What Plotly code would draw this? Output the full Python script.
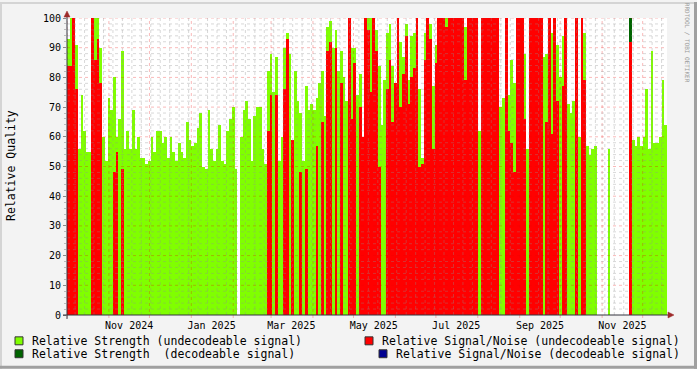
import pandas as pd
import plotly.graph_objects as go

# ---------------- data ----------------
start_date = "2024-10-01"
end_date = "2025-12-19"
bin_days = 2

# Relative Strength (undecodeable signal), one value per 2-day bin
strength_undec = [
    93, 100, 100, 91, 56, 74, 62, 55, 55, 100,
    100, 100, 90, 60, 52, 73, 69, 80, 60, 66,
    89, 56, 62, 56, 69, 56, 60, 53, 53, 51,
    52, 60, 55, 62, 62, 58, 60, 53, 60, 55,
    52, 58, 55, 53, 65, 59, 57, 58, 63, 68,
    50, 49, 69, 56, 52, 56, 64, 52, 51, 62,
    66, 70, 49, 0, 60, 69, 72, 66, 52, 67,
    70, 70, 56, 51, 82, 88, 75, 87, 52, 60,
    90, 95, 88, 52, 82, 72, 68, 52, 77, 69,
    71, 69, 73, 78, 82, 67, 97, 99, 90, 96,
    82, 89, 80, 72, 80, 90, 90, 74, 81, 60,
    100, 100, 100, 89, 96, 84, 64, 79, 95, 98,
    84, 74, 100, 92, 87, 98, 79, 94, 95, 100,
    76, 53, 95, 100, 98, 77, 91, 99, 100, 100,
    100, 100, 100, 100, 100, 100, 100, 97, 90, 100,
    100, 100, 62, 100, 93, 100, 100, 100, 100, 100,
    70, 73, 100, 74, 86, 78, 100, 100, 98, 88,
    56, 100, 100, 100, 100, 100, 87, 88, 100, 95,
    100, 91, 80, 94, 100, 71, 68, 72, 100, 60,
    98, 95, 57, 54, 56, 57, 0, 0, 0, 0,
    56, 0, 0, 0, 0, 0, 0, 0, 100, 59,
    57, 60, 57, 60, 76, 56, 89, 58, 58, 60,
    79, 64,
]

# Relative Signal/Noise (undecodeable signal), same bins
sn_undec = [
    84, 84, 100, 76, 0, 0, 0, 0, 0, 100,
    86, 93, 78, 0, 0, 0, 0, 48, 55, 0,
    49, 0, 0, 0, 0, 0, 0, 0, 0, 0,
    0, 0, 0, 0, 0, 0, 0, 0, 0, 0,
    0, 0, 0, 0, 0, 0, 0, 0, 0, 0,
    0, 0, 0, 0, 0, 0, 0, 0, 0, 0,
    0, 0, 0, 0, 0, 0, 0, 0, 0, 0,
    0, 0, 0, 0, 62, 74, 0, 74, 0, 0,
    76, 93, 0, 59, 0, 0, 48, 0, 49, 0,
    0, 0, 57, 0, 65, 0, 89, 92, 0, 90,
    0, 78, 0, 0, 100, 66, 85, 0, 70, 60,
    100, 96, 75, 100, 89, 50, 0, 0, 76, 86,
    65, 78, 100, 70, 81, 94, 71, 80, 83, 100,
    50, 51, 86, 100, 93, 56, 85, 100, 100, 100,
    97, 100, 100, 100, 100, 100, 100, 79, 100, 100,
    100, 100, 0, 100, 100, 100, 100, 100, 100, 100,
    0, 0, 100, 62, 58, 48, 100, 100, 100, 66,
    0, 100, 100, 100, 100, 100, 0, 65, 100, 61,
    100, 72, 0, 77, 100, 0, 0, 0, 100, 0,
    100, 79, 0, 0, 0, 0, 0, 0, 0, 0,
    0, 0, 0, 0, 0, 0, 0, 0, 92, 0,
    0, 0, 0, 0, 0, 0, 0, 0, 0, 0,
    0, 0,
]

# decodeable signal series (sparse)
strength_dec_dates = ["2025-11-21"]
strength_dec_vals = [100]
sn_dec_dates = []
sn_dec_vals = []

x_tick_dates = ["2024-11-16", "2025-01-16", "2025-03-16", "2025-05-16",
                "2025-07-16", "2025-09-16", "2025-11-16"]
x_tick_labels = ["Nov 2024", "Jan 2025", "Mar 2025", "May 2025",
                 "Jul 2025", "Sep 2025", "Nov 2025"]
y_ticks = [0, 10, 20, 30, 40, 50, 60, 70, 80, 90, 100]

legend_labels = [
    "Relative Strength (undecodeable signal)",
    "Relative Signal/Noise (undecodeable signal)",
    "Relative Strength\u00a0 (decodeable signal)",
    "Relative Signal/Noise (decodeable signal)",
]

# ---------------- styling ----------------
LIME = "#80FF00"
RED = "#FF0000"
DKGREEN = "#006400"
NAVY = "#000090"
FONT = "DejaVu Sans Mono"

W, H = 697, 369
L, R, T, B = 67, 30, 16, 54
PW, PH = W - L - R, H - T - B


def px(xp):
    return (xp - L) / PW


def py(yp):
    return (T + PH - yp) / PH


dates = pd.date_range(start_date, periods=len(strength_undec), freq=f"{bin_days}D")
width_ms = bin_days * 86400000

fig = go.Figure()


def add_bars(x, y, color):
    fig.add_trace(go.Bar(x=x, y=y, width=width_ms, offset=0,
                         marker=dict(color=color, line=dict(width=0)),
                         showlegend=False, hoverinfo="skip"))


add_bars(dates, strength_undec, LIME)
add_bars(pd.to_datetime(strength_dec_dates), strength_dec_vals, DKGREEN)
add_bars(dates, sn_undec, RED)
add_bars(pd.to_datetime(sn_dec_dates), sn_dec_vals, NAVY)

shapes = []
GRID = "rgba(143,143,143,0.35)"
MGRID = "rgba(235,0,0,0.28)"

# weekly minor grid (Mondays)
months = pd.date_range("2024-10-01", end_date, freq="MS")
for d in pd.date_range("2024-10-07", end_date, freq="7D"):
    if any(abs((d - m).days) < 1 for m in months):
        continue
    shapes.append(dict(type="line", xref="x", yref="paper", x0=d, x1=d, y0=0, y1=1,
                       line=dict(color=GRID, width=1, dash="dot"), layer="above"))
# monthly major grid + ticks
for m in months:
    shapes.append(dict(type="line", xref="x", yref="paper", x0=m, x1=m, y0=py(318), y1=1,
                       line=dict(color=MGRID, width=1, dash="dot"), layer="above"))
# horizontal grids
for v in range(2, 100, 2):
    if v % 10 == 0:
        continue
    shapes.append(dict(type="line", xref="paper", yref="y", x0=0, x1=1, y0=v, y1=v,
                       line=dict(color=GRID, width=1, dash="dot"), layer="above"))
for v in range(10, 101, 10):
    shapes.append(dict(type="line", xref="paper", yref="y", x0=0, x1=1, y0=v, y1=v,
                       line=dict(color=MGRID, width=1, dash="dot"), layer="above"))

AXIS = "#34343f"
ARROW = "#9E2B2B"
# axis lines
shapes.append(dict(type="line", xref="paper", yref="paper", x0=px(63), x1=px(669), y0=0, y1=0,
                   line=dict(color=AXIS, width=1), layer="above"))
shapes.append(dict(type="line", xref="paper", yref="paper", x0=0, x1=0, y0=py(319), y1=py(12),
                   line=dict(color=AXIS, width=1), layer="above"))
# arrows
shapes.append(dict(type="path", xref="paper", yref="paper",
                   path=f"M {px(668)},{py(312)} L {px(674)},{py(315)} L {px(668)},{py(318)} Z",
                   fillcolor=ARROW, line=dict(color=ARROW, width=0.5), layer="above"))
shapes.append(dict(type="path", xref="paper", yref="paper",
                   path=f"M {px(64)},{py(15)} L {px(67)},{py(9)} L {px(70)},{py(15)} Z",
                   fillcolor=ARROW, line=dict(color=ARROW, width=0.5), layer="above"))

# image border (shade)
shapes.append(dict(type="rect", xref="paper", yref="paper", x0=px(0), x1=px(2), y0=py(H), y1=py(0),
                   fillcolor="#D4D4D4", line=dict(width=0)))
shapes.append(dict(type="rect", xref="paper", yref="paper", x0=px(0), x1=px(W), y0=py(2), y1=py(0),
                   fillcolor="#D4D4D4", line=dict(width=0)))
shapes.append(dict(type="rect", xref="paper", yref="paper", x0=px(W - 3), x1=px(W), y0=py(H), y1=py(0),
                   fillcolor="#A0A0A0", line=dict(width=0)))
shapes.append(dict(type="rect", xref="paper", yref="paper", x0=px(0), x1=px(W), y0=py(H), y1=py(H - 3),
                   fillcolor="#A0A0A0", line=dict(width=0)))

# legend squares and texts
legend_items = [
    (15, 337, 30.5, 341.5, LIME, legend_labels[0]),
    (365, 337, 380.5, 341.5, RED, legend_labels[1]),
    (15, 350, 30.5, 354.5, DKGREEN, legend_labels[2]),
    (379, 350, 394.5, 354.5, NAVY, legend_labels[3]),
]
annotations = []
for sx, sy, tx, ty, col, lab in legend_items:
    shapes.append(dict(type="rect", xref="paper", yref="paper",
                       x0=px(sx), x1=px(sx + 8), y0=py(sy + 8), y1=py(sy),
                       fillcolor=col, line=dict(color="#333333", width=1)))
    annotations.append(dict(text=lab, xref="paper", yref="paper", x=px(tx), y=py(ty),
                            xanchor="left", yanchor="middle", showarrow=False,
                            font=dict(family=FONT, size=11.5, color="black"), borderpad=0))

annotations.append(dict(text="Relative Quality", xref="paper", yref="paper", x=px(11), y=py(165),
                        xanchor="center", yanchor="middle", textangle=-90, showarrow=False,
                        font=dict(family=FONT, size=11.5, color="black")))
annotations.append(dict(text="RRDTOOL / TOBI OETIKER", xref="paper", yref="paper", x=px(687), y=py(41),
                        xanchor="center", yanchor="middle", textangle=90, showarrow=False,
                        font=dict(family=FONT, size=6, color="#999999")))

fig.update_layout(
    width=W, height=H, autosize=False,
    margin=dict(l=L, r=R, t=T, b=B, pad=0),
    paper_bgcolor="#F3F3F3", plot_bgcolor="white",
    barmode="overlay", bargap=0, showlegend=False,
    shapes=shapes, annotations=annotations,
    xaxis=dict(type="date", range=[start_date, end_date], tickvals=x_tick_dates,
               ticktext=x_tick_labels, ticks="", showgrid=False, zeroline=False, showline=False,
               ticklabelstandoff=3,
               tickfont=dict(family=FONT, size=10, color="black"), fixedrange=True),
    yaxis=dict(range=[0, 100], tickvals=y_ticks, ticks="outside", ticklen=3, tickcolor="#888888",
               showgrid=False, zeroline=False, showline=False,
               minor=dict(ticks="outside", ticklen=2, dtick=2, tickcolor="#BBBBBB", showgrid=False),
               tickfont=dict(family=FONT, size=10, color="black"), fixedrange=True),
)

fig.write_html("out.html", config={"displayModeBar": False, "staticPlot": True},
               post_script="document.body.style.margin='0';document.body.style.overflow='hidden';")
